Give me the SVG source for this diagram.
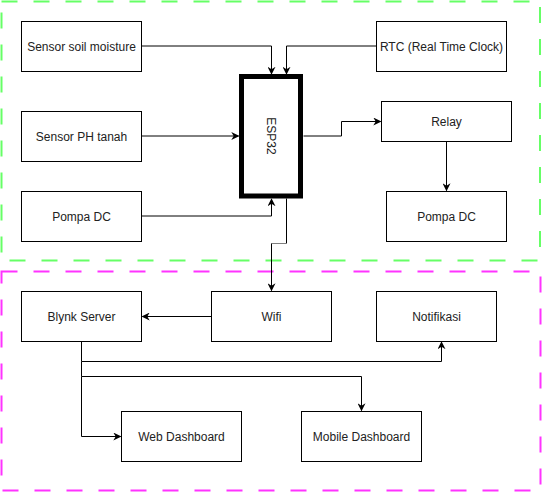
<svg xmlns="http://www.w3.org/2000/svg" width="542" height="492" viewBox="0 0 542 492">
<style>
.box{fill:#fff;stroke:#000;stroke-width:1}
.t{font-family:"Liberation Sans",Arial,sans-serif;font-size:12px;fill:#222;text-anchor:middle;dominant-baseline:central}
.c{fill:none;stroke:#000;stroke-width:1}
</style>
<defs>
<marker id="a" viewBox="0 0 10 10" refX="9" refY="5" markerWidth="8" markerHeight="8" markerUnits="userSpaceOnUse" orient="auto">
<path d="M0 0 L10 5 L0 10 L3 5 Z" fill="#000"/>
</marker>
</defs>
<rect x="1.5" y="1.5" width="538.5" height="259" fill="none" stroke="#66ff66" stroke-width="2" stroke-dasharray="16 16"/>
<rect x="1.5" y="271.5" width="539" height="219" fill="none" stroke="#ff33ff" stroke-width="2" stroke-dasharray="16 16"/>
<g id="connectors">
<path class="c" d="M141.5 46 H271.5 V74" marker-end="url(#a)"/>
<path class="c" d="M376.5 46 H286.5 V74" marker-end="url(#a)"/>
<path class="c" d="M141.5 136 H238.5" marker-end="url(#a)"/>
<path class="c" d="M141.5 216 H271.5 V199" marker-end="url(#a)"/>
<path class="c" d="M303.5 136 H341.5 V121.5 H380.5" marker-end="url(#a)"/>
<path class="c" d="M446.5 141.5 V190.5" marker-end="url(#a)"/>
<path class="c" d="M286.5 198.5 V243.5"/>
<path fill="none" stroke="#808080" d="M286.5 243.5 H271.5"/>
<path class="c" d="M271.5 243.5 V290.5" marker-end="url(#a)"/>
<path class="c" d="M211 316.5 H142.5" marker-end="url(#a)"/>
<path class="c" d="M81.5 341.5 V361.5 H441.5 V342" marker-end="url(#a)"/>
<path class="c" d="M81.5 361.5 V376.5 H361.5 V410.5" marker-end="url(#a)"/>
<path class="c" d="M81.5 376.5 V436.5 H120.5" marker-end="url(#a)"/>
</g>
<g id="soil"><rect class="box" x="21.5" y="21.5" width="120" height="50"/><text class="t" x="81.5" y="46.5">Sensor soil moisture</text></g>
<g id="ph"><rect class="box" x="21.5" y="111.5" width="120" height="50"/><text class="t" x="81.5" y="136.5">Sensor PH tanah</text></g>
<g id="pompa1"><rect class="box" x="21.5" y="191.5" width="120" height="50"/><text class="t" x="81.5" y="216.5">Pompa DC</text></g>
<g id="esp32"><rect x="241.5" y="76.5" width="59" height="119.5" fill="#fff" stroke="#000" stroke-width="5"/><text class="t" transform="translate(271 136) rotate(90)">ESP32</text></g>
<g id="rtc"><rect class="box" x="376.5" y="21.5" width="130" height="50"/><text class="t" x="441.5" y="46.5">RTC (Real Time Clock)</text></g>
<g id="relay"><rect class="box" x="381.5" y="101.5" width="130" height="40"/><text class="t" x="446.5" y="121.5">Relay</text></g>
<g id="pompa2"><rect class="box" x="386.5" y="191.5" width="120" height="50"/><text class="t" x="446.5" y="216.5">Pompa DC</text></g>
<g id="blynk"><rect class="box" x="21.5" y="291.5" width="120" height="50"/><text class="t" x="81.5" y="316.5">Blynk Server</text></g>
<g id="wifi"><rect class="box" x="211.5" y="291.5" width="120" height="50"/><text class="t" x="271.5" y="316.5">Wifi</text></g>
<g id="notif"><rect class="box" x="376.5" y="291.5" width="120" height="50"/><text class="t" x="436.5" y="316.5">Notifikasi</text></g>
<g id="web"><rect class="box" x="121.5" y="411.5" width="120" height="50"/><text class="t" x="181.5" y="436.5">Web Dashboard</text></g>
<g id="mobile"><rect class="box" x="301.5" y="411.5" width="120" height="50"/><text class="t" x="361.5" y="436.5">Mobile Dashboard</text></g>
</svg>
